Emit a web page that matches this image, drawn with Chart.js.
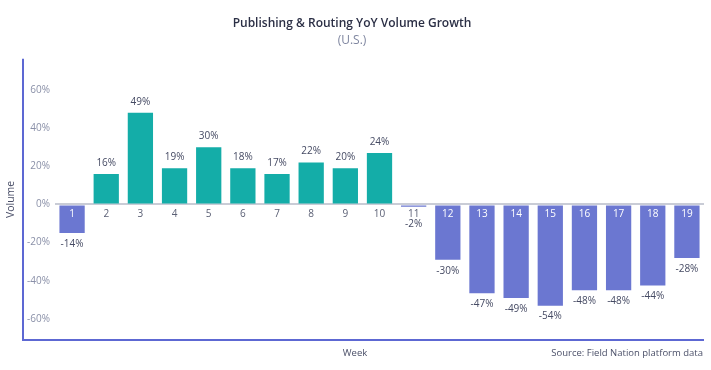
<!DOCTYPE html>
<html>
<head>
<meta charset="utf-8">
<script src="https://cdn.jsdelivr.net/npm/chart.js@4/dist/chart.umd.min.js"></script>
<style>
  html, body { margin: 0; padding: 0; background: #fff; }
  #wrap { width: 711px; height: 370px; }
</style>
</head>
<body>
<div id="wrap"><canvas id="chart"></canvas></div>
<script>
// weeks on the x axis
const weeks = ['1','2','3','4','5','6','7','8','9','10','11','12','13','14','15','16','17','18','19'];
// bar heights as drawn (YoY %)
const growth = [-15, 16, 48, 19, 30, 19, 16, 22, 19, 27, -1.2, -29, -46.5, -49, -53, -45, -45, -42.5, -28];
// percentages printed on the bars
const shown = [-14, 16, 49, 19, 30, 18, 17, 22, 20, 24, -2, -30, -47, -49, -54, -48, -48, -44, -28];
const yTicks = [-60, -40, -20, 0, 20, 40, 60];

const TEAL = '#14ada8';
const PURPLE = '#6b77d1';
const FRAME = '#5d68d3';
const FONT = "'Open Sans', 'DejaVu Sans', sans-serif";

const barLabels = {
    id: 'barLabels',
    afterDatasetsDraw(chart) {
        const c = chart.ctx;
        const meta = chart.getDatasetMeta(0);
        const zeroY = chart.scales.y.getPixelForValue(0);
        c.save();
        c.textAlign = 'center';
        c.textBaseline = 'middle';
        meta.data.forEach((bar, i) => {
            const v = growth[i];
            // week number sits just under the zero line
            c.font = '10px ' + FONT;
            c.fillStyle = (v < 0 && bar.y - zeroY > 14) ? '#ffffff' : '#5b6075';
            c.fillText(weeks[i], bar.x, zeroY + 10);
            // value label
            c.fillStyle = '#454a63';
            let ty;
            if (v >= 0) ty = bar.y - 11;
            else ty = Math.max(bar.y + 11, zeroY + 20);
            c.fillText(shown[i] + '%', bar.x, ty);
        });
        c.restore();
    }
};

const frame = {
    id: 'frame',
    afterDraw(chart) {
        const c = chart.ctx;
        const a = chart.chartArea;
        c.save();
        c.strokeStyle = FRAME;
        c.lineWidth = 2;
        c.beginPath();
        c.moveTo(23, a.top);
        c.lineTo(23, a.bottom);
        c.lineTo(a.right, a.bottom);
        c.stroke();
        c.font = '9.5px ' + FONT;
        c.fillStyle = '#4a4f68';
        c.textBaseline = 'middle';
        c.textAlign = 'center';
        c.fillText('Week', 355, 353);
        c.textAlign = 'right';
        c.fillText('Source: Field Nation platform data', a.right - 1, 353);
        c.restore();
    }
};

const data = {
    labels: weeks,
    datasets: [{
        data: growth,
        backgroundColor: growth.map(v => v >= 0 ? TEAL : PURPLE),
        barPercentage: 0.74,
        categoryPercentage: 1
    }]
};

const config = {
    type: 'bar',
    data: data,
    options: {
        responsive: true,
        maintainAspectRatio: false,
        animation: false,
        layout: { padding: { left: 0, right: 7, top: 0, bottom: 0 } },
        plugins: {
            legend: { display: false },
            tooltip: { enabled: false },
            title: {
                display: true,
                text: 'Publishing & Routing YoY Volume Growth',
                color: '#2b2f45',
                font: { family: FONT, size: 12, weight: '600' },
                padding: { top: 16, bottom: 0 }
            },
            subtitle: {
                display: true,
                text: '(U.S.)',
                color: '#7f86a0',
                font: { family: FONT, size: 12 },
                padding: { top: 3, bottom: 11 }
            }
        },
        scales: {
            x: {
                grid: { display: false },
                border: { display: false },
                ticks: { display: false },
                afterFit: s => { s.height = 30; }
            },
            y: {
                min: -71,
                max: 76.3,
                afterBuildTicks: s => { s.ticks = yTicks.map(v => ({ value: v })); },
                grid: {
                    drawTicks: false,
                    color: ctx => ctx.tick && ctx.tick.value === 0 ? '#c9ccd6' : 'rgba(0,0,0,0)',
                    lineWidth: 2
                },
                border: { display: false },
                ticks: {
                    padding: 5,
                    color: '#8a90a8',
                    font: { family: FONT, size: 10 },
                    callback: v => v + '%'
                },
                title: {
                    display: true,
                    text: 'Volume',
                    color: '#4a4f68',
                    font: { family: FONT, size: 10.5 },
                    padding: { top: 5, bottom: 0 }
                },
                afterFit: s => { s.width = 55; }
            }
        }
    },
    plugins: [barLabels, frame]
};

new Chart(document.getElementById('chart'), config);
</script>
</body>
</html>
